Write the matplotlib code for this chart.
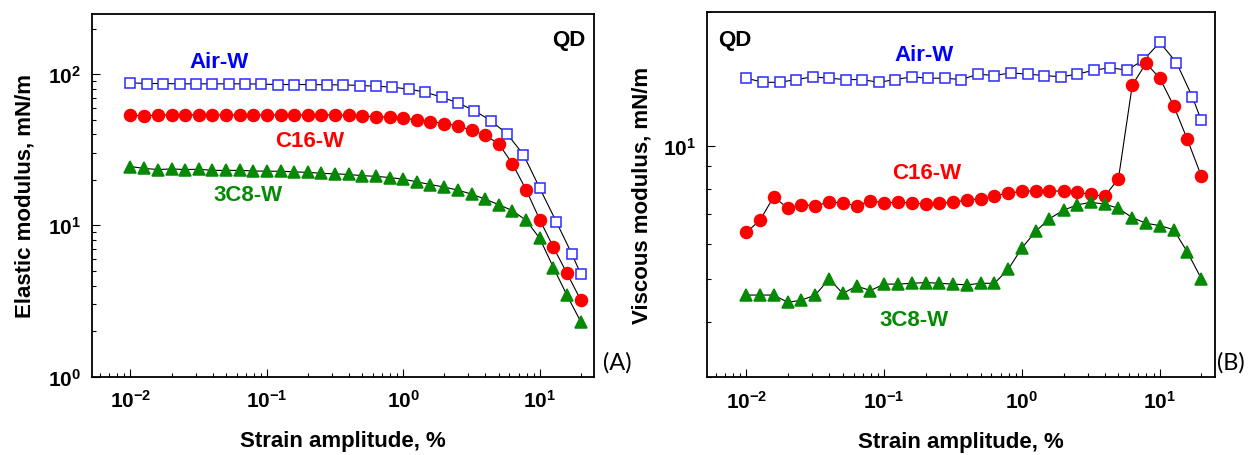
import matplotlib
matplotlib.use('Agg')
import matplotlib.pyplot as plt
from matplotlib.ticker import NullFormatter

plt.rcParams['font.family'] = ['Liberation Sans', 'DejaVu Sans']
plt.rcParams['font.weight'] = 'bold'
plt.rcParams['axes.labelweight'] = 'bold'

######################################
#               DATA
######################################

# strain amplitude, % (Air-W sweep is coarser than the two oil sweeps)
strain_air = [0.01, 0.0132, 0.0174, 0.0229, 0.0302, 0.0398, 0.0525, 0.0692, 0.0912,
              0.120, 0.158, 0.209, 0.275, 0.363, 0.479, 0.631, 0.832, 1.10, 1.45,
              1.91, 2.51, 3.31, 4.37, 5.75, 7.59, 10.0, 13.2, 17.2, 20.0]
strain_oil = [0.01, 0.0126, 0.0158, 0.02, 0.0251, 0.0316, 0.0398, 0.0501, 0.0631,
              0.0794, 0.1, 0.126, 0.158, 0.2, 0.251, 0.316, 0.398, 0.501, 0.631,
              0.794, 1.0, 1.26, 1.58, 2.0, 2.51, 3.16, 3.98, 5.01, 6.31, 7.94,
              10.0, 12.6, 15.8, 20.0]

# elastic modulus, mN/m
elastic_air = [87.7, 86.7, 86.7, 86.3, 86.3, 86.3, 86.3, 86.3, 85.9, 85.4, 85.4, 85.4,
               85.0, 85.0, 84.1, 83.3, 82.0, 79.6, 76.0, 70.4, 64.6, 57.4, 49.3, 40.3,
               29.4, 17.6, 10.6, 6.46, 4.76]
elastic_c16 = [53.8, 52.7, 53.8, 53.8, 53.8, 53.8, 53.8, 53.8, 53.8, 53.8, 53.8, 53.8,
               53.8, 53.8, 53.8, 53.8, 53.3, 52.7, 52.4, 51.9, 51.1, 49.8, 48.6, 47.1,
               45.5, 42.6, 39.4, 34.6, 25.5, 17.2, 10.9, 7.15, 4.83, 3.20]
elastic_3c8 = [24.5, 23.8, 23.4, 23.6, 23.4, 23.5, 23.1, 23.1, 23.1, 22.9, 22.8, 22.8,
               22.6, 22.4, 22.1, 21.9, 21.7, 21.3, 21.1, 20.7, 20.2, 19.4, 18.6, 17.9,
               17.1, 16.1, 14.9, 13.7, 12.5, 10.8, 8.20, 5.25, 3.46, 2.30]

# viscous modulus, mN/m
viscous_air = [14.2, 13.9, 13.9, 14.1, 14.3, 14.2, 14.1, 14.1, 13.9, 14.1, 14.3, 14.2,
               14.2, 14.1, 14.5, 14.4, 14.6, 14.5, 14.4, 14.3, 14.5, 14.8, 15.0, 14.8,
               15.6, 17.1, 15.4, 12.9, 11.4]
viscous_c16 = [6.37, 6.80, 7.67, 7.22, 7.35, 7.32, 7.45, 7.43, 7.31, 7.51, 7.43, 7.45,
               7.43, 7.38, 7.42, 7.45, 7.54, 7.59, 7.71, 7.81, 7.89, 7.91, 7.91, 7.89,
               7.84, 7.77, 7.68, 8.43, 13.7, 15.35, 14.2, 12.3, 10.35, 8.54]
viscous_3c8 = [4.60, 4.60, 4.60, 4.43, 4.48, 4.60, 5.00, 4.64, 4.82, 4.71, 4.87, 4.87,
               4.89, 4.91, 4.89, 4.87, 4.85, 4.89, 4.89, 5.26, 5.88, 6.41, 6.84, 7.15,
               7.35, 7.45, 7.38, 7.22, 6.88, 6.68, 6.60, 6.46, 5.76, 5.01]

BLUE = '#0000ff'
RED = '#ff0000'
GREEN = '#068a06'


######################################
#              PLOTTING
######################################

def draw_series(ax, x, y, marker, color, face, ms):
    ax.plot(x, y, '-', color='black', lw=0.8, zorder=2)
    ax.plot(x, y, linestyle='none', marker=marker, ms=ms, mfc=face,
            mec=color, mew=1.1, zorder=3)


def style_axes(ax):
    ax.set_xscale('log')
    ax.set_yscale('log')
    ax.set_xlim(0.0052, 25)
    ax.tick_params(which='both', direction='in', top=False, right=False,
                   width=0.8, labelsize=15)
    ax.tick_params(which='major', length=6)
    ax.tick_params(which='minor', length=3)
    ax.tick_params(axis='x', pad=9)
    ax.tick_params(axis='y', pad=8)
    ax.xaxis.set_minor_formatter(NullFormatter())
    ax.yaxis.set_minor_formatter(NullFormatter())
    for s in ax.spines.values():
        s.set_linewidth(1.3)
    ax.set_xlabel('Strain amplitude, %', fontsize=16)
    ax.xaxis.set_label_coords(0.5, -0.147)


fig = plt.figure(figsize=(12.48, 4.56), dpi=100)
ax1 = fig.add_axes([0.0735, 0.1721, 0.4025, 0.795])
ax2 = fig.add_axes([0.5667, 0.1704, 0.4066, 0.8004])

# elastic modulus
draw_series(ax1, strain_air, elastic_air, 's', '#2a2aff', 'white', 7.2)
draw_series(ax1, strain_oil, elastic_c16, 'o', RED, RED, 8.6)
draw_series(ax1, strain_oil, elastic_3c8, '^', GREEN, GREEN, 8.2)
style_axes(ax1)
ax1.set_ylim(1, 250)
ax1.set_ylabel('Elastic modulus, mN/m', fontsize=16)
ax1.yaxis.set_label_coords(-0.111, 0.5)
ax1.text(0.2534, 0.868, 'Air-W', color=BLUE, fontsize=16, ha='center', va='center', transform=ax1.transAxes)
ax1.text(0.4346, 0.650, 'C16-W', color=RED, fontsize=16, ha='center', va='center', transform=ax1.transAxes)
ax1.text(0.3113, 0.503, '3C8-W', color=GREEN, fontsize=16, ha='center', va='center', transform=ax1.transAxes)
ax1.text(0.9504, 0.930, 'QD', color='black', fontsize=16, ha='center', va='center', transform=ax1.transAxes)

# viscous modulus
draw_series(ax2, strain_air, viscous_air, 's', '#2a2aff', 'white', 7.2)
draw_series(ax2, strain_oil, viscous_c16, 'o', RED, RED, 8.6)
draw_series(ax2, strain_oil, viscous_3c8, '^', GREEN, GREEN, 8.2)
style_axes(ax2)
ax2.set_ylim(3, 20)
ax2.set_ylabel('Viscous modulus, mN/m', fontsize=16)
ax2.yaxis.set_label_coords(-0.1076, 0.5)
ax2.text(0.4281, 0.884, 'Air-W', color=BLUE, fontsize=16, ha='center', va='center', transform=ax2.transAxes)
ax2.text(0.4330, 0.561, 'C16-W', color=RED, fontsize=16, ha='center', va='center', transform=ax2.transAxes)
ax2.text(0.4074, 0.158, '3C8-W', color=GREEN, fontsize=16, ha='center', va='center', transform=ax2.transAxes)
ax2.text(0.0546, 0.926, 'QD', color='black', fontsize=16, ha='center', va='center', transform=ax2.transAxes)

# panel letters
fig.text(0.4944, 0.204, '(A)', fontsize=17, fontweight='normal', family=['Lato', 'DejaVu Sans'], ha='center', va='center')
fig.text(0.986, 0.204, '(B)', fontsize=17, fontweight='normal', family=['Lato', 'DejaVu Sans'], ha='center', va='center')

fig.savefig('out.png', dpi=100)
